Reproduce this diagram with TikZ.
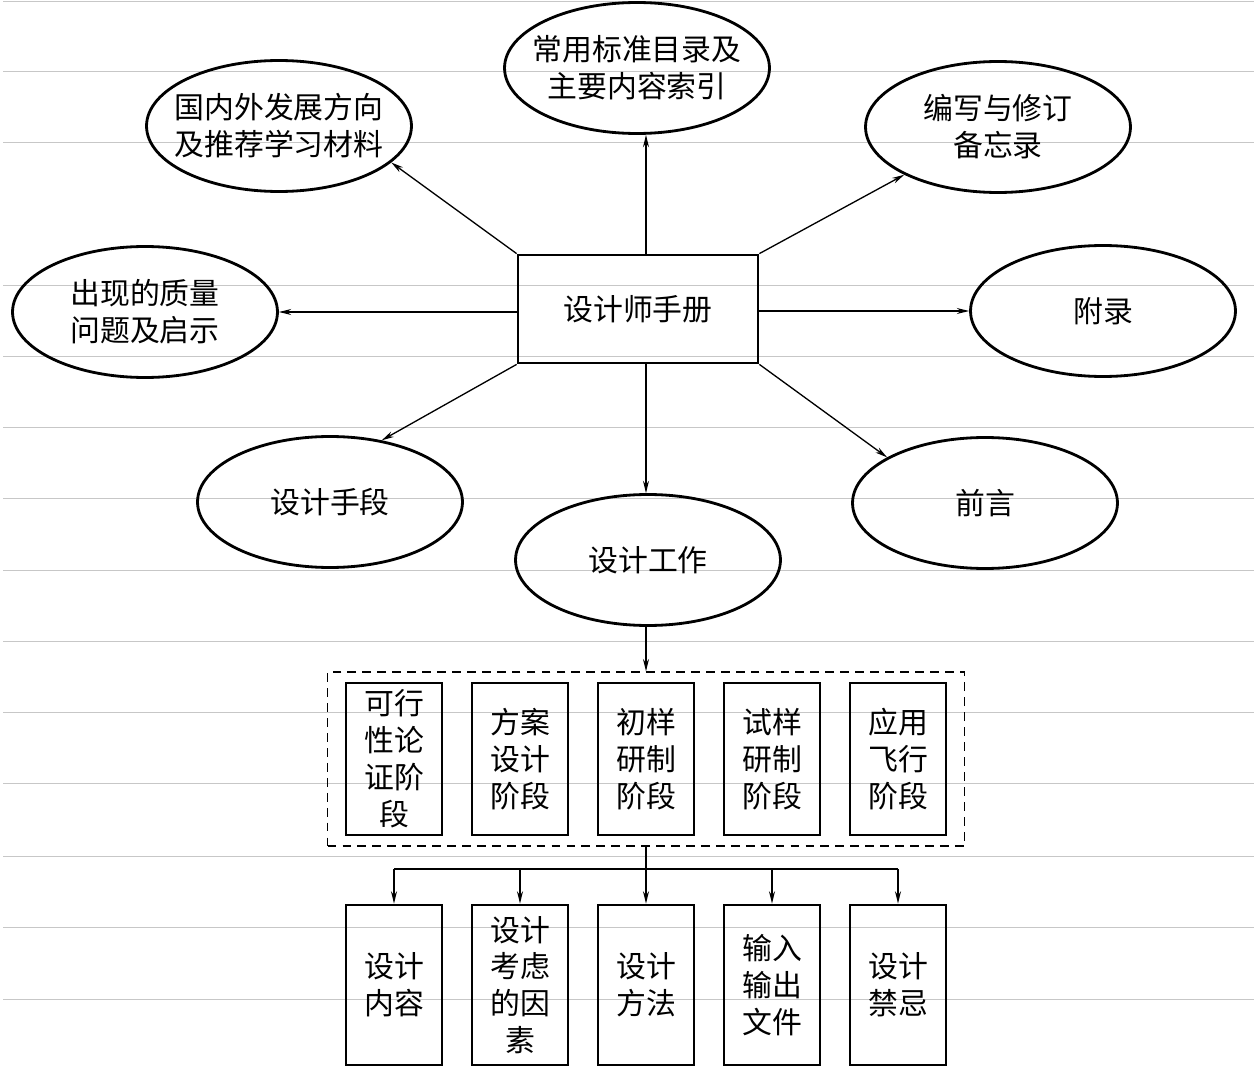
\documentclass[tikz,border=0pt]{standalone}
\usepackage{fontspec}
\newfontfamily\cjk{Noto Sans CJK SC}
\usetikzlibrary{arrows.meta,fit,shapes.geometric}

\begin{document}
\begin{tikzpicture}[
    x=0.02cm, y=-0.02cm,
    txt/.style={font=\cjk\fontsize{17pt}{21pt}\selectfont, align=center},
    ell/.style={ellipse, draw, txt, line width=1.6pt, inner xsep=-7pt, inner ysep=0pt,
                minimum width=5.3cm, minimum height=2.62cm},
    hub/.style={rectangle, draw, txt, line width=1.6pt,
                minimum width=4.8cm, minimum height=2.16cm},
    stg/.style={rectangle, draw, txt, line width=1.6pt, inner sep=0pt,
                minimum width=1.92cm, minimum height=3.04cm},
    itm/.style={stg, minimum height=3.2cm},
    grp/.style={draw, dashed, dash pattern=on 5pt off 3.5pt, line width=0.9pt},
    >={Stealth[length=7pt,width=3.4pt]},
    arr/.style={->, line width=0.75pt},
    bus/.style={line width=1.1pt},
    ruling/.style={black!22, line width=0.5pt}
  ]
  \useasboundingbox (0,0) rectangle (1259,1068);
  % Ruled background
  \foreach \y in {1,71,142,285,356,427,498,570,641,712,783,856,927,999}{
    \draw[ruling] (3,\y) -- (1254,\y);
  }
  % Handbook and its parts
  \node[hub] (hub) at (638,309) {设计师手册};
  \node[ell] (std) at (637,68) {常用标准目录及\\主要内容索引};
  \node[ell] (intl) at (279,126) {国内外发展方向\\及推荐学习材料};
  \node[ell] (notes) at (998,127) {编写与修订\\备忘录};
  \node[ell] (quality) at (145,312) {出现的质量\\问题及启示};
  \node[ell] (appx) at (1103,311) {附录};
  \node[ell] (means) at (330,502) {设计手段};
  \node[ell] (pref) at (985,503) {前言};
  \node[ell] (work) at (648,560) {设计工作};
  \coordinate (col) at (646,0);
  % Spokes
  \draw[arr] (hub.north -| col) -- (std.south -| col);
  \draw[arr] (hub.north west) -- (intl.-18);
  \draw[arr] (hub.north east) -- (notes.207);
  \draw[arr] (hub.west |- quality.east) -- (quality.east);
  \draw[arr] (hub.east |- appx.west) -- (appx.west);
  \draw[arr] (hub.south west) -- (means.50);
  \draw[arr] (hub.south east) -- (pref.155);
  \draw[arr] (hub.south -| col) -- (work.north -| col);
  % Stages
  \foreach \i/\t in {1/{可行\\性论\\证阶\\段}, 2/{方案\\设计\\阶段}, 3/{初样\\研制\\阶段},
                     4/{试样\\研制\\阶段}, 5/{应用\\飞行\\阶段}}{
    \node[stg] (s\i) at ({394+(\i-1)*126},759) {\t};
  }
  \node[grp, fit=(s1)(s5), inner xsep=0.34cm, inner ysep=0.19cm] (grp) {};
  \draw[arr] (work.south -| col) -- (grp.north -| col);
  % Contents of each stage
  \foreach \i/\t in {1/{设计\\内容}, 2/{设计\\考虑\\的因\\素}, 3/{设计\\方法},
                     4/{输入\\输出\\文件}, 5/{设计\\禁忌}}{
    \node[itm] (t\i) at ({394+(\i-1)*126},985) {\t};
  }
  \coordinate (bus) at (646,869);
  \draw[bus] (grp.south -| col) -- (bus);
  \draw[bus] (t1.north |- bus) -- (t5.north |- bus);
  \foreach \i in {1,...,5}{
    \draw[arr, line width=1pt] (t\i.north |- bus) -- (t\i.north);
  }
\end{tikzpicture}
\end{document}
